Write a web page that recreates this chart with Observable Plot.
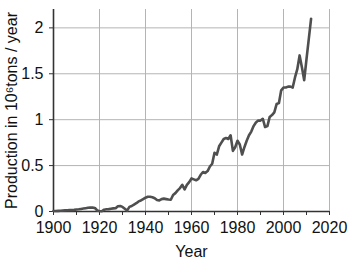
<!DOCTYPE html>
<html>
<head>
<meta charset="utf-8">
<script src="https://cdn.jsdelivr.net/npm/d3@7"></script>
<script src="https://cdn.jsdelivr.net/npm/@observablehq/plot@0.6"></script>
<style>
  html, body { margin: 0; padding: 0; background: #fff; }
</style>
</head>
<body>
<div id="chart"></div>
<script>
const years = [
  1900,1901,1902,1903,1904,1905,1906,1907,1908,1909,
  1910,1911,1912,1913,1914,1915,1916,1917,1918,1919,
  1920,1921,1922,1923,1924,1925,1926,1927,1928,1929,
  1930,1931,1932,1933,1934,1935,1936,1937,1938,1939,
  1940,1941,1942,1943,1944,1945,1946,1947,1948,1949,
  1950,1951,1952,1953,1954,1955,1956,1957,1958,1959,
  1960,1961,1962,1963,1964,1965,1966,1967,1968,1969,
  1970,1971,1972,1973,1974,1975,1976,1977,1978,1979,
  1980,1981,1982,1983,1984,1985,1986,1987,1988,1989,
  1990,1991,1992,1993,1994,1995,1996,1997,1998,1999,
  2000,2001,2002,2003,2004,2005,2006,2007,2008,2009,
  2010,2011,2012
];
const production = [
  0.005,0.006,0.007,0.008,0.010,0.012,0.014,0.016,0.015,0.018,
  0.022,0.024,0.028,0.032,0.036,0.040,0.044,0.042,0.038,0.012,
  0.005,0.002,0.020,0.024,0.026,0.030,0.034,0.036,0.058,0.060,
  0.050,0.030,0.010,0.050,0.060,0.075,0.090,0.110,0.120,0.135,
  0.150,0.160,0.160,0.155,0.145,0.125,0.120,0.135,0.140,0.135,
  0.130,0.128,0.180,0.200,0.230,0.255,0.290,0.240,0.290,0.320,
  0.360,0.350,0.340,0.355,0.400,0.430,0.420,0.440,0.490,0.520,
  0.640,0.620,0.710,0.750,0.790,0.800,0.790,0.830,0.660,0.700,
  0.770,0.730,0.620,0.700,0.770,0.830,0.870,0.930,0.970,0.990,
  0.990,1.010,0.920,0.930,1.030,1.050,1.080,1.170,1.180,1.320,
  1.350,1.350,1.360,1.360,1.350,1.460,1.550,1.700,1.570,1.430,
  1.660,1.880,2.100
];
const xMajorTicks = [1900, 1920, 1940, 1960, 1980, 2000, 2020];
const xMinorTicks = [1910, 1930, 1950, 1970, 1990, 2010];
const yTicks = [0, 0.5, 1, 1.5, 2];
const xLabel = "Year";
const yLabel = "Production in 10\u2076tons / year";

const data = years.map((y, i) => ({year: y, value: production[i]}));
const FS = 16;

const chart = Plot.plot({
  width: 350,
  height: 261,
  marginLeft: 53,
  marginRight: 21,
  marginTop: 9,
  marginBottom: 50,
  style: {fontFamily: "'Liberation Sans', Arial, Helvetica, sans-serif", fontSize: "16px", background: "#fff", color: "#111"},
  x: {domain: [1900, 2020]},
  y: {domain: [0, 2.2]},
  marks: [
    Plot.gridX(xMajorTicks, {stroke: "#b4b4b4", strokeOpacity: 1, strokeWidth: 1}),
    Plot.gridY(yTicks, {stroke: "#b4b4b4", strokeOpacity: 1, strokeWidth: 1}),
    Plot.axisX(xMinorTicks, {tickSize: 4, text: null, label: null, stroke: "#333"}),
    Plot.axisX(xMajorTicks, {tickSize: 4, tickPadding: 6, tickFormat: "d", stroke: "#333", fontSize: FS,
      label: xLabel, labelAnchor: "center", labelArrow: "none", labelOffset: 45}),
    Plot.axisY(yTicks, {tickSize: 4, tickPadding: 6, stroke: "#333", fontSize: FS,
      tickFormat: d => `${d}`,
      label: yLabel, labelAnchor: "center", labelArrow: "none", labelOffset: 48}),
    Plot.ruleY([0], {stroke: "#333", strokeWidth: 1.6}),
    Plot.ruleX([1900], {stroke: "#333", strokeWidth: 1.6}),
    Plot.line(data, {x: "year", y: "value", stroke: "#4f4f4f", strokeWidth: 2.6, strokeLinejoin: "round"})
  ]
});
document.getElementById("chart").appendChild(chart);
</script>
</body>
</html>
